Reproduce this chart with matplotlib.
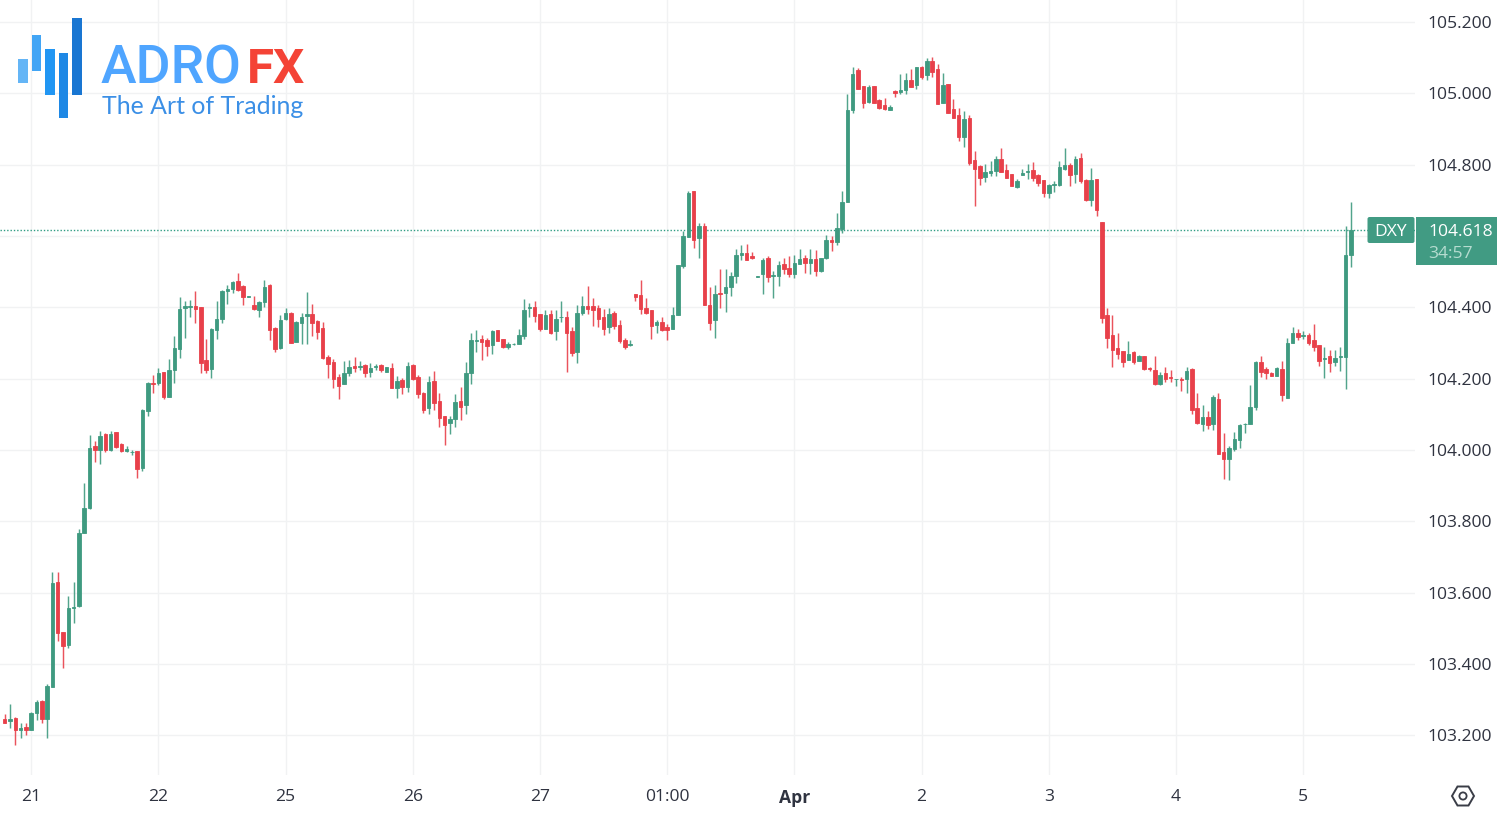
import matplotlib
matplotlib.use("Agg")
import matplotlib.pyplot as plt
from matplotlib.patches import Rectangle, FancyBboxPatch, Polygon, Circle
from matplotlib.transforms import IdentityTransform

opens = [
103.245,103.240,103.249,103.216,103.224,103.215,103.263,103.297,103.245,103.336,
103.630,103.489,103.452,103.558,103.562,103.766,103.837,104.011,104.001,104.046,
104.000,104.050,104.016,103.998,103.993,103.997,103.949,104.110,104.188,104.189,
104.219,104.148,104.224,104.283,104.397,104.401,104.403,104.400,104.251,104.228,
104.336,104.366,104.447,104.451,104.473,104.460,104.429,104.407,104.393,104.414,
104.463,104.341,104.285,104.366,104.383,104.304,104.355,104.377,104.382,104.362,
104.341,104.262,104.247,104.206,104.184,104.215,104.236,104.233,104.239,104.219,
104.233,104.238,104.219,104.229,104.174,104.197,104.177,104.239,104.205,104.160,
104.117,104.194,104.138,104.096,104.075,104.086,104.138,104.125,104.215,104.306,
104.312,104.308,104.295,104.336,104.312,104.288,104.296,104.298,104.319,104.397,
104.400,104.381,104.340,104.381,104.333,104.373,104.374,104.333,104.274,104.385,
104.405,104.403,104.399,104.374,104.344,104.385,104.350,104.309,104.295,104.436,
104.434,104.399,104.392,104.350,104.360,104.344,104.339,104.379,104.515,104.596,
104.726,104.593,104.627,104.407,104.364,104.439,104.439,104.458,104.489,104.548,
104.553,104.543,104.485,104.492,104.537,104.488,104.489,104.522,104.511,104.494,
104.522,104.539,104.525,104.536,104.501,104.538,104.588,104.584,104.620,104.695,
104.953,105.065,105.021,104.976,105.021,104.981,104.966,104.954,105.005,105.004,
105.008,105.036,105.022,105.074,105.050,105.091,105.067,104.973,105.025,104.955,
104.939,104.876,104.932,104.813,104.796,104.766,104.777,104.782,104.816,104.784,
104.774,104.736,104.771,104.778,104.784,104.771,104.756,104.721,104.744,104.742,
104.788,104.798,104.774,104.819,104.757,104.701,104.760,104.638,104.378,104.322,
104.287,104.277,104.252,104.274,104.250,104.263,104.229,104.224,104.184,104.215,
104.204,104.198,104.200,104.198,104.226,104.118,104.073,104.093,104.073,104.142,
103.993,103.975,104.003,104.027,104.072,104.073,104.121,104.246,104.228,104.215,
104.208,104.228,104.147,104.301,104.329,104.319,104.323,104.308,104.295,104.254,
104.263,104.247,104.260,104.260,104.548]

closes = [
103.235,103.245,103.215,103.220,103.215,103.263,103.294,103.245,103.339,103.626,
103.486,103.451,103.557,103.561,103.768,103.837,104.007,103.999,104.039,104.000,
104.046,104.009,103.996,104.004,103.994,103.947,104.112,104.189,104.186,104.215,
104.148,104.223,104.285,104.396,104.403,104.404,104.395,104.245,104.224,104.338,
104.368,104.446,104.451,104.472,104.449,104.428,104.431,104.395,104.414,104.458,
104.335,104.282,104.365,104.383,104.301,104.359,104.372,104.380,104.355,104.332,
104.257,104.241,104.200,104.179,104.215,104.232,104.230,104.236,104.215,104.229,
104.236,104.225,104.232,104.174,104.193,104.177,104.236,104.198,104.156,104.111,
104.190,104.132,104.090,104.069,104.086,104.134,104.121,104.215,104.308,104.308,
104.302,104.292,104.333,104.305,104.288,104.298,104.298,104.322,104.392,104.400,
104.376,104.340,104.378,104.327,104.367,104.374,104.327,104.271,104.385,104.403,
104.396,104.392,104.368,104.340,104.381,104.347,104.305,104.288,104.298,104.428,
104.396,104.385,104.347,104.358,104.336,104.336,104.379,104.519,104.599,104.721,
104.590,104.627,104.406,104.356,104.438,104.436,104.456,104.487,104.547,104.551,
104.533,104.537,104.487,104.533,104.485,104.491,104.519,104.508,104.492,104.525,
104.536,104.525,104.536,104.501,104.539,104.588,104.584,104.623,104.695,104.953,
105.055,105.011,104.973,105.018,104.973,104.959,104.955,104.962,105.001,105.008,
105.036,105.018,105.073,105.046,105.091,105.060,104.969,105.022,104.945,104.931,
104.876,104.928,104.805,104.789,104.762,104.779,104.782,104.817,104.778,104.763,
104.739,104.753,104.776,104.781,104.763,104.749,104.719,104.743,104.747,104.794,
104.798,104.771,104.816,104.753,104.701,104.757,104.674,104.371,104.313,104.281,
104.270,104.246,104.270,104.246,104.264,104.226,104.226,104.184,104.211,104.200,
104.201,104.200,104.197,104.222,104.111,104.076,104.093,104.070,104.149,103.989,
103.975,104.007,104.031,104.070,104.074,104.120,104.246,104.218,104.215,104.208,
104.229,104.153,104.301,104.328,104.318,104.322,104.301,104.290,104.250,104.257,
104.243,104.257,104.263,104.548,104.618]

highs = [
103.259,103.288,103.252,103.235,103.235,103.266,103.299,103.299,103.345,103.658,
103.658,103.489,103.592,103.630,103.779,103.908,104.043,104.024,104.052,104.047,
104.052,104.050,104.019,104.011,103.999,103.997,104.114,104.191,104.209,104.229,
104.220,104.254,104.320,104.428,104.417,104.421,104.445,104.400,104.310,104.341,
104.417,104.449,104.463,104.474,104.497,104.463,104.431,104.432,104.419,104.477,
104.465,104.346,104.379,104.397,104.386,104.362,104.383,104.442,104.410,104.365,
104.359,104.266,104.254,104.213,104.250,104.253,104.260,104.250,104.242,104.243,
104.242,104.240,104.232,104.243,104.208,104.201,104.246,104.242,104.211,104.163,
104.208,104.222,104.160,104.096,104.096,104.156,104.177,104.246,104.329,104.336,
104.322,104.315,104.336,104.336,104.312,104.304,104.301,104.340,104.423,104.412,
104.419,104.381,104.392,104.392,104.392,104.419,104.389,104.344,104.406,104.431,
104.459,104.427,104.406,104.395,104.399,104.391,104.364,104.313,104.309,104.436,
104.476,104.427,104.392,104.364,104.372,104.354,104.401,104.519,104.613,104.727,
104.726,104.635,104.635,104.456,104.463,104.508,104.508,104.498,104.564,104.574,
104.578,104.554,104.487,104.537,104.543,104.501,104.529,104.539,104.543,104.547,
104.564,104.547,104.564,104.560,104.539,104.602,104.599,104.665,104.727,104.997,
105.074,105.070,105.021,105.022,105.021,104.983,104.987,104.966,105.008,105.053,
105.056,105.067,105.074,105.077,105.098,105.102,105.081,105.056,105.025,104.983,
104.959,104.949,104.939,104.838,104.800,104.803,104.810,104.824,104.847,104.802,
104.774,104.760,104.788,104.802,104.808,104.774,104.756,104.746,104.753,104.811,
104.847,104.805,104.825,104.833,104.760,104.791,104.760,104.638,104.399,104.378,
104.329,104.277,104.305,104.277,104.266,104.263,104.232,104.264,104.218,104.232,
104.224,104.200,104.204,104.232,104.229,104.159,104.125,104.109,104.153,104.159,
104.048,104.011,104.051,104.074,104.076,104.183,104.250,104.264,104.232,104.218,
104.232,104.250,104.315,104.346,104.339,104.333,104.329,104.353,104.295,104.290,
104.281,104.281,104.288,104.627,104.694]

lows = [
103.235,103.221,103.174,103.194,103.202,103.215,103.243,103.235,103.194,103.336,
103.465,103.389,103.446,103.516,103.561,103.766,103.835,103.966,103.961,103.995,
103.998,104.006,103.994,103.994,103.985,103.921,103.942,104.094,104.161,104.182,
104.144,104.148,104.189,104.259,104.314,104.372,104.355,104.217,104.217,104.202,
104.310,104.355,104.408,104.439,104.446,104.407,104.429,104.393,104.372,104.400,
104.307,104.276,104.282,104.365,104.301,104.304,104.296,104.296,104.320,104.310,
104.254,104.203,104.174,104.144,104.184,104.208,104.219,104.225,104.204,104.204,
104.223,104.218,104.219,104.174,104.146,104.156,104.162,104.197,104.146,104.103,
104.100,104.111,104.065,104.013,104.044,104.065,104.083,104.100,104.184,104.274,
104.253,104.264,104.270,104.305,104.287,104.284,104.295,104.296,104.312,104.374,
104.358,104.333,104.340,104.325,104.309,104.358,104.219,104.264,104.243,104.378,
104.381,104.347,104.344,104.323,104.329,104.340,104.301,104.284,104.292,104.417,
104.382,104.382,104.312,104.329,104.333,104.309,104.339,104.378,104.509,104.596,
104.565,104.537,104.406,104.335,104.315,104.398,104.387,104.433,104.467,104.533,
104.533,104.534,104.485,104.436,104.471,104.426,104.461,104.492,104.485,104.483,
104.522,104.495,104.492,104.488,104.499,104.536,104.557,104.574,104.609,104.695,
104.945,105.011,104.959,104.973,104.973,104.957,104.952,104.952,104.990,104.997,
104.997,105.018,105.011,105.039,105.036,105.046,104.969,104.973,104.945,104.931,
104.866,104.848,104.799,104.683,104.744,104.752,104.769,104.768,104.778,104.763,
104.739,104.734,104.771,104.760,104.753,104.739,104.709,104.707,104.722,104.739,
104.784,104.739,104.749,104.749,104.697,104.684,104.656,104.357,104.287,104.232,
104.256,104.232,104.252,104.242,104.250,104.224,104.222,104.183,104.183,104.191,
104.191,104.179,104.165,104.159,104.100,104.073,104.053,104.060,104.056,103.989,
103.920,103.916,103.997,104.006,104.048,104.073,104.111,104.205,104.200,104.208,
104.208,104.138,104.145,104.299,104.309,104.312,104.295,104.278,104.236,104.201,
104.219,104.236,104.222,104.170,104.514]

y_ticks = [105.2, 105.0, 104.8, 104.6, 104.4, 104.2, 104.0, 103.8, 103.6, 103.4, 103.2]
y_tick_labels = ["105.200", "105.000", "104.800", "", "104.400", "104.200", "104.000",
                 "103.800", "103.600", "103.400", "103.200"]
x_tick_index = [5, 29, 53, 77, 101, 125, 149, 173, 197, 221, 245]
x_tick_labels = ["21", "22", "25", "26", "27", "01:00", "Apr", "2", "3", "4", "5"]

GREEN = "#3f9a80"
RED = "#e8404a"
GRID = "#f1f2f3"
TEXT = "#2f3340"
FONT = "Open Sans"

W, H = 1502, 814
fig = plt.figure(figsize=(W / 100, H / 100), dpi=100, facecolor="white")
AX_R, AX_B = 1415, 775
ax = fig.add_axes([0, 1 - AX_B / H, AX_R / W, AX_B / H])
ax.set_facecolor("white")

px_per_price = 356.75
ax.set_ylim(104 - (AX_B - 450) / px_per_price, 104 + 450 / px_per_price)
step = 5.3
ax.set_xlim(-4.7 / step, (AX_R - 4.7) / step)

xs = list(range(len(opens)))
colors = [GREEN if c >= o else RED for o, c in zip(opens, closes)]
ax.vlines(xs, lows, highs, colors=colors, linewidth=1.05, alpha=0.9, zorder=3)
bottoms = [min(o, c) for o, c in zip(opens, closes)]
heights = [abs(c - o) for o, c in zip(opens, closes)]
ax.bar(xs, heights, bottom=bottoms, width=0.66, color=colors, edgecolor=colors,
       linewidth=0.6, zorder=4)

ax.set_yticks(y_ticks)
ax.set_yticklabels(y_tick_labels, fontsize=12.6, color=TEXT, family=FONT)
ax.yaxis.tick_right()
ax.set_xticks(x_tick_index)
ax.set_xticklabels(x_tick_labels, fontsize=12.6, color=TEXT, family=FONT)
for lab in ax.get_xticklabels():
    if lab.get_text() == "Apr":
        lab.set_fontweight("bold")
ax.tick_params(axis="y", length=0, pad=9)
ax.tick_params(axis="x", length=0, pad=10)
ax.grid(True, color=GRID, linewidth=1.0, zorder=0)
ax.set_axisbelow(True)
for s in ax.spines.values():
    s.set_visible(False)

last = closes[-1]
ax.axhline(last, color="#2f9d83", linewidth=1.0, linestyle=(0, (1, 1.4)), zorder=2)

ID = IdentityTransform()
def rect(x0, y0, x1, y1, color, round_px=0, z=6):
    if round_px:
        p = FancyBboxPatch((x0 + round_px, H - y1 + round_px), x1 - x0 - 2 * round_px, y1 - y0 - 2 * round_px,
                           boxstyle=f"round,pad={round_px},rounding_size={round_px}",
                           transform=ID, facecolor=color, edgecolor="none", zorder=z)
    else:
        p = Rectangle((x0, H - y1), x1 - x0, y1 - y0, transform=ID, facecolor=color,
                      edgecolor="none", zorder=z)
    fig.add_artist(p)

def label(x, y, s, **kw):
    fig.text(x / W, 1 - y / H, s, **kw)

# price tags
rect(1367.5, 217, 1414.5, 243, "#419b83", round_px=2)
rect(1416, 217, 1497, 265, "#419b83")
label(1390.5, 232, "DXY", color="white", fontsize=12.6, family=FONT, ha="center", va="center", zorder=7)
label(1493, 232, f"{last:.3f}", color="white", fontsize=12.6, family=FONT, ha="right", va="center", zorder=7)
label(1428, 254.5, "34:57", color="#b6dcd0", fontsize=12.6, family=FONT, ha="left", va="center", zorder=7)

# logo
for x0, y0, x1, y1, c in [(18, 59, 27.5, 83, "#64b5f6"), (32, 35, 41, 71, "#42a5f5"),
                          (45, 49, 54.5, 95, "#2196f3"), (59, 53, 68, 118, "#1e88e5"),
                          (72, 18, 81.5, 95, "#1976d2")]:
    rect(x0, y0, x1, y1, c, z=5)
label(101, 83, "ADRO", color="#4fa5ff", fontsize=38.5, family="Roboto", fontweight="medium", va="baseline", zorder=5)
label(247, 83, "FX", color="#f44336", fontsize=35.5, family="Roboto", fontweight="bold", va="baseline", zorder=5)
label(102, 114, "The Art of Trading", color="#3b8fe6", fontsize=17.9, family="Lato", fontweight="normal", va="baseline", zorder=5)

# settings hexagon
hx, hy, a, b = 1463, 796, 11, 9.5
pts = [(hx - a, H - hy), (hx - a / 2, H - hy + b), (hx + a / 2, H - hy + b),
       (hx + a, H - hy), (hx + a / 2, H - hy - b), (hx - a / 2, H - hy - b)]
fig.add_artist(Polygon(pts, closed=True, transform=ID, fill=False, edgecolor="#3a3d47", linewidth=1.4))
fig.add_artist(Circle((hx, H - hy), 3.6, transform=ID, fill=False, edgecolor="#3a3d47", linewidth=1.3))

fig.savefig("out.png", dpi=100, facecolor="white")
